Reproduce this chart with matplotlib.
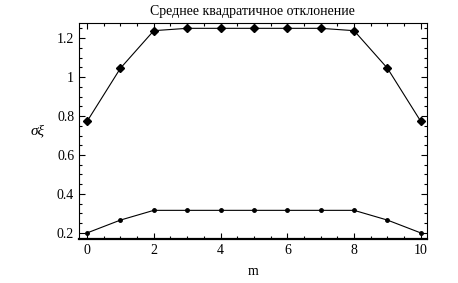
import matplotlib
matplotlib.use("Agg")
import matplotlib.pyplot as plt
from matplotlib.ticker import MultipleLocator

plt.rcParams['font.family'] = ['Liberation Serif', 'DejaVu Serif']

m = [0, 1, 2, 3, 4, 5, 6, 7, 8, 9, 10]
upper = [0.772, 1.045, 1.238, 1.25, 1.25, 1.25, 1.25, 1.25, 1.238, 1.045, 0.772]
lower = [0.2, 0.266, 0.316, 0.316, 0.316, 0.316, 0.316, 0.316, 0.316, 0.266, 0.2]

fig = plt.figure(figsize=(4.58, 2.83), dpi=100)
ax = fig.add_axes([0.1725, 0.1555, 0.7595, 0.763])

ax.plot(m, upper, color='black', lw=0.8, marker='D', ms=4)
ax.plot(m, lower, color='black', lw=0.8, marker='o', ms=2.5)

ax.set_xlim(-0.24, 10.18)
ax.set_ylim(0.169, 1.277)
ax.xaxis.set_major_locator(MultipleLocator(2))
ax.xaxis.set_minor_locator(MultipleLocator(0.5))
ax.yaxis.set_major_locator(MultipleLocator(0.2))
ax.yaxis.set_minor_locator(MultipleLocator(0.05))
ax.set_yticks([0.2, 0.4, 0.6, 0.8, 1.0, 1.2])
ax.set_yticklabels(['0.2', '0.4', '0.6', '0.8', '1', '1.2'])

ax.tick_params(which='both', direction='in', top=True, right=True, labelsize=10, width=0.8)
ax.tick_params(which='major', length=4)
ax.tick_params(which='minor', length=2)
for s in ax.spines.values():
    s.set_linewidth(0.8)
ax.spines['bottom'].set_linewidth(1.6)

ax.set_title('Среднее квадратичное отклонение', fontsize=10, pad=6)
ax.set_xlabel('m', fontsize=10, labelpad=6)
ax.set_ylabel('σξ', fontsize=11, rotation=0, style='italic', labelpad=14, va='center')

fig.savefig('out.png', dpi=100)
